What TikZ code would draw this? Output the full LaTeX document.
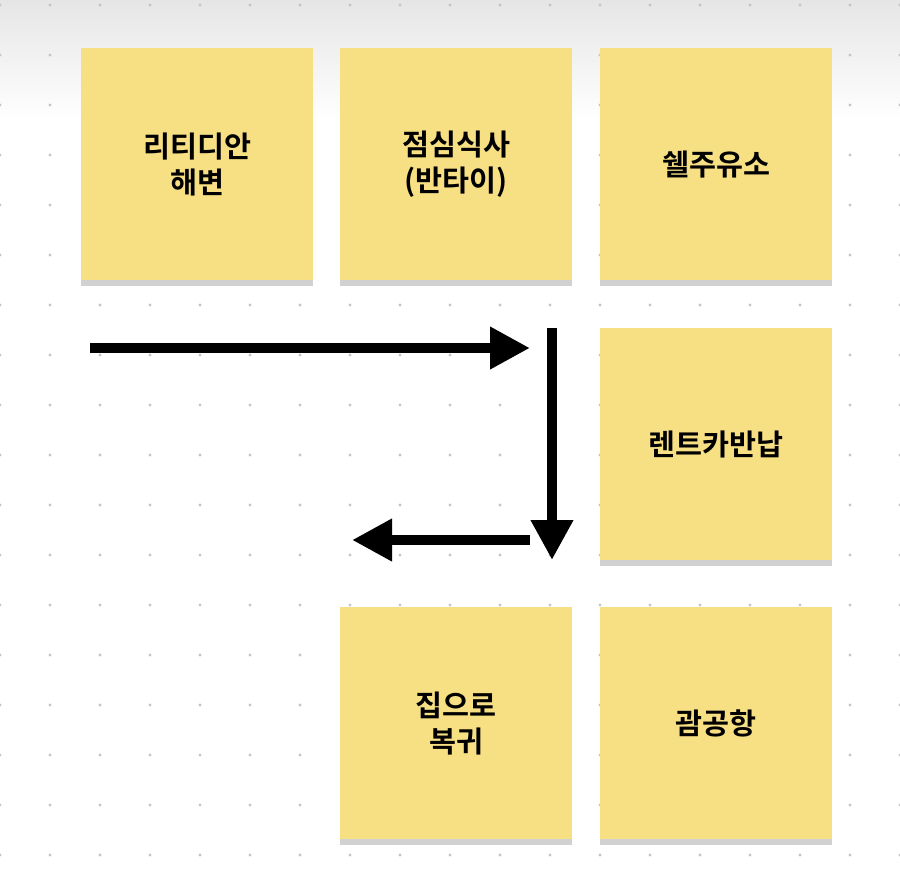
\documentclass[tikz,border=0pt]{standalone}
\usepackage{fontspec}
\newfontfamily\kr{Noto Sans CJK KR}[BoldFont={* Bold}]
\usetikzlibrary{arrows.meta,shadows}
\begin{document}
\begin{tikzpicture}[x=0.75pt,y=-0.75pt,
  note/.style={fill=noteyellow,draw=none,minimum width=174pt,minimum height=174pt,anchor=north west,
    align=center,font=\kr\bfseries\fontsize{22}{27}\selectfont,text=black,
    drop shadow={shadow xshift=0pt,shadow yshift=-4pt,opacity=0.18,fill=black}},
  arr/.style={line width=7.5pt,-{Triangle[length=30pt,width=30pt]}}]
\definecolor{noteyellow}{HTML}{F7DF84}
\definecolor{dotgray}{HTML}{C4C4C4}
\useasboundingbox (0,0) rectangle (900,876);
\shade[top color=black!10,bottom color=white] (0,0) rectangle (900,120);
\foreach \i in {0,...,18}{\foreach \j in {0,...,17}{
  \fill[dotgray] (\i*50,5+\j*50) circle (1.6);}}
\node[note] (a) at (81,48) {리티디안\\해변};
\node[note] (b) at (340,48) {점심식사\\(반타이)};
\node[note] (c) at (600,48) {쉘주유소};
\node[note] (d) at (600,328) {렌트카반납};
\node[note] (e) at (340,607) {집으로\\복귀};
\node[note] (f) at (600,607) {괌공항};
\coordinate (h1) at (90,348);
\coordinate (h2) at (530,348);
\coordinate (v1) at (552,328);
\coordinate (v2) at (552,560);
\coordinate (l1) at (530,540);
\coordinate (l2) at (352,540);
\draw[arr] (h1) -- (h2);
\draw[arr] (v1) -- (v2);
\draw[arr] (l1) -- (l2);
\end{tikzpicture}
\end{document}
